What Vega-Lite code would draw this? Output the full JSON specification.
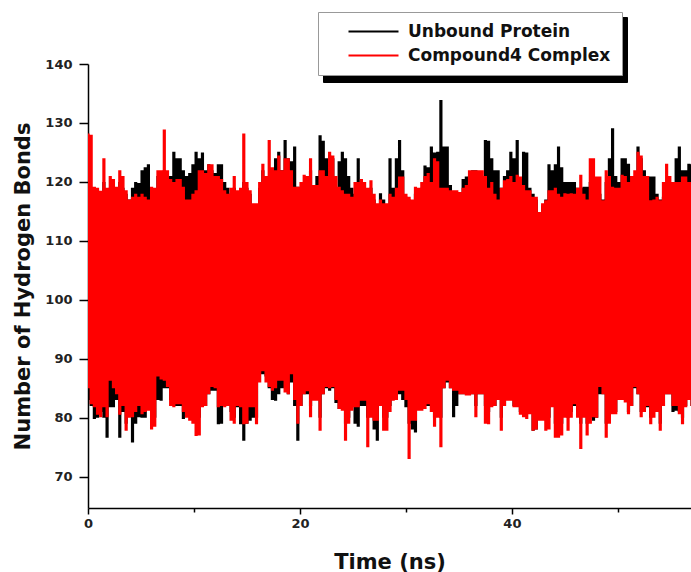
{
  "$schema": "https://vega.github.io/schema/vega-lite/v6.json",
  "width": 603,
  "height": 444,
  "autosize": {"type": "none"},
  "padding": {"left": 88, "top": 64, "right": 0, "bottom": 64},
  "background": "white",
  "config": {"view": {"stroke": null}, "font": "DejaVu Sans"},
  "data": {"values": [
{"t":0,"uh":119,"ul":83,"ch":128.2,"cl":85},
{"t":0.3,"uh":119,"ul":82,"ch":128,"cl":82.3},
{"t":0.6,"uh":119,"ul":79.8,"ch":119.2,"cl":81.8},
{"t":0.9,"uh":118.5,"ul":80,"ch":119,"cl":80.5},
{"t":1.2,"uh":118,"ul":81,"ch":118.5,"cl":80.1},
{"t":1.5,"uh":120,"ul":80,"ch":124,"cl":81.8},
{"t":1.8,"uh":118,"ul":76.6,"ch":119,"cl":80.1},
{"t":2.1,"uh":119,"ul":81.8,"ch":121,"cl":86.3},
{"t":2.4,"uh":119,"ul":81.8,"ch":120.5,"cl":85},
{"t":2.7,"uh":118,"ul":83,"ch":119.2,"cl":84},
{"t":3.0,"uh":120,"ul":76.6,"ch":122,"cl":80.5},
{"t":3.3,"uh":119,"ul":81,"ch":121,"cl":82},
{"t":3.6,"uh":118,"ul":79,"ch":118.6,"cl":77.8},
{"t":3.9,"uh":117,"ul":81,"ch":117,"cl":80},
{"t":4.2,"uh":119,"ul":75.8,"ch":117.5,"cl":80.1},
{"t":4.5,"uh":120,"ul":79,"ch":118,"cl":81},
{"t":4.8,"uh":119.8,"ul":80.1,"ch":117.5,"cl":82},
{"t":5.1,"uh":122,"ul":80,"ch":118,"cl":80.6},
{"t":5.4,"uh":122.5,"ul":80,"ch":117.5,"cl":81},
{"t":5.7,"uh":123,"ul":82,"ch":117,"cl":81.2},
{"t":6.0,"uh":118.6,"ul":81,"ch":119.2,"cl":78},
{"t":6.3,"uh":118,"ul":80,"ch":119,"cl":78.5},
{"t":6.6,"uh":121,"ul":83,"ch":122,"cl":87},
{"t":6.9,"uh":121,"ul":82.9,"ch":122,"cl":86.5},
{"t":7.2,"uh":122,"ul":85,"ch":128.9,"cl":86.3},
{"t":7.5,"uh":121,"ul":85,"ch":122,"cl":85.2},
{"t":7.8,"uh":121,"ul":83,"ch":120.5,"cl":82},
{"t":8.1,"uh":125.1,"ul":82,"ch":120,"cl":81.8},
{"t":8.4,"uh":124,"ul":82,"ch":120.5,"cl":82.3},
{"t":8.7,"uh":124,"ul":82,"ch":120.5,"cl":82.3},
{"t":9.0,"uh":122,"ul":79.8,"ch":119.2,"cl":81},
{"t":9.3,"uh":121,"ul":81,"ch":117,"cl":80},
{"t":9.6,"uh":121.5,"ul":81,"ch":117,"cl":79.5},
{"t":9.9,"uh":123,"ul":80,"ch":118,"cl":79},
{"t":10.2,"uh":125.1,"ul":80,"ch":118.6,"cl":76.9},
{"t":10.5,"uh":124,"ul":80,"ch":122,"cl":77},
{"t":10.8,"uh":125,"ul":82,"ch":122,"cl":81.8},
{"t":11.1,"uh":122,"ul":82,"ch":121.5,"cl":82},
{"t":11.4,"uh":123,"ul":84,"ch":123,"cl":84},
{"t":11.7,"uh":122,"ul":84.6,"ch":123,"cl":85.2},
{"t":12.0,"uh":121.5,"ul":84.6,"ch":121,"cl":85},
{"t":12.3,"uh":123,"ul":78.9,"ch":121,"cl":81.8},
{"t":12.6,"uh":123,"ul":79,"ch":120.5,"cl":82},
{"t":12.9,"uh":120,"ul":82,"ch":118.6,"cl":81.8},
{"t":13.2,"uh":119,"ul":83,"ch":118,"cl":82},
{"t":13.5,"uh":118,"ul":81,"ch":119,"cl":79.5},
{"t":13.8,"uh":119,"ul":80,"ch":121,"cl":79},
{"t":14.1,"uh":118,"ul":81.8,"ch":118.6,"cl":82},
{"t":14.4,"uh":118,"ul":78.9,"ch":119,"cl":81.8},
{"t":14.7,"uh":120,"ul":76.1,"ch":128.2,"cl":78.9},
{"t":15.0,"uh":119,"ul":79,"ch":120,"cl":79},
{"t":15.3,"uh":118,"ul":79.5,"ch":118.6,"cl":81.8},
{"t":15.6,"uh":116,"ul":80,"ch":116.4,"cl":81.8},
{"t":15.9,"uh":116,"ul":80,"ch":116.4,"cl":78.9},
{"t":16.2,"uh":119,"ul":87.4,"ch":120,"cl":86},
{"t":16.5,"uh":122,"ul":87.4,"ch":123.1,"cl":87.9},
{"t":16.8,"uh":120,"ul":87,"ch":121,"cl":86},
{"t":17.1,"uh":121,"ul":85,"ch":127.1,"cl":85.2},
{"t":17.4,"uh":121,"ul":83,"ch":122.5,"cl":84.6},
{"t":17.7,"uh":124,"ul":82.9,"ch":122,"cl":85},
{"t":18.0,"uh":125.1,"ul":84,"ch":124.5,"cl":86.3},
{"t":18.3,"uh":122,"ul":85,"ch":122,"cl":86.3},
{"t":18.6,"uh":127.1,"ul":85,"ch":124,"cl":84.3},
{"t":18.9,"uh":124,"ul":84,"ch":124,"cl":84},
{"t":19.2,"uh":123.5,"ul":86,"ch":122,"cl":87.4},
{"t":19.5,"uh":126,"ul":82,"ch":119.2,"cl":83},
{"t":19.8,"uh":119.2,"ul":76.1,"ch":119.2,"cl":79},
{"t":20.1,"uh":118.6,"ul":82,"ch":120,"cl":82},
{"t":20.4,"uh":120,"ul":84,"ch":121.2,"cl":84},
{"t":20.7,"uh":120,"ul":84,"ch":121,"cl":84.5},
{"t":21.0,"uh":122,"ul":82,"ch":124,"cl":80.1},
{"t":21.3,"uh":119,"ul":83,"ch":119.5,"cl":82.9},
{"t":21.6,"uh":121,"ul":83,"ch":119.5,"cl":82.9},
{"t":21.9,"uh":127.9,"ul":80,"ch":122,"cl":77.8},
{"t":22.2,"uh":127,"ul":84,"ch":122,"cl":84},
{"t":22.5,"uh":124,"ul":85,"ch":121,"cl":85.2},
{"t":22.8,"uh":124.5,"ul":84.6,"ch":125.1,"cl":85},
{"t":23.1,"uh":124,"ul":85,"ch":124.5,"cl":85.2},
{"t":23.4,"uh":118,"ul":82.5,"ch":121,"cl":83},
{"t":23.7,"uh":123.5,"ul":81.5,"ch":119.2,"cl":81.5},
{"t":24.0,"uh":125.1,"ul":82,"ch":118.6,"cl":81.2},
{"t":24.3,"uh":124,"ul":79,"ch":118,"cl":76.1},
{"t":24.6,"uh":121,"ul":80,"ch":118,"cl":79},
{"t":24.9,"uh":119,"ul":82,"ch":117.5,"cl":81.2},
{"t":25.2,"uh":118,"ul":79,"ch":120,"cl":81.8},
{"t":25.5,"uh":124,"ul":78.5,"ch":120,"cl":81.8},
{"t":25.8,"uh":119,"ul":82,"ch":120.5,"cl":82.9},
{"t":26.1,"uh":118.6,"ul":82,"ch":120,"cl":82.9},
{"t":26.4,"uh":118,"ul":80,"ch":119,"cl":75},
{"t":26.7,"uh":119,"ul":82,"ch":120.3,"cl":80},
{"t":27.0,"uh":117,"ul":78,"ch":118,"cl":79.5},
{"t":27.3,"uh":116,"ul":76.1,"ch":116.4,"cl":79.5},
{"t":27.6,"uh":118.1,"ul":82,"ch":117,"cl":82},
{"t":27.9,"uh":117,"ul":80,"ch":116.4,"cl":77.8},
{"t":28.2,"uh":116,"ul":80,"ch":116.4,"cl":77.8},
{"t":28.5,"uh":124,"ul":82,"ch":118,"cl":81},
{"t":28.8,"uh":119,"ul":83,"ch":117.5,"cl":82.9},
{"t":29.1,"uh":124,"ul":83,"ch":119,"cl":83},
{"t":29.4,"uh":127.1,"ul":84,"ch":120.9,"cl":84.6},
{"t":29.7,"uh":122,"ul":83,"ch":120.9,"cl":84.6},
{"t":30.0,"uh":117.5,"ul":81.8,"ch":118,"cl":83},
{"t":30.3,"uh":117,"ul":79,"ch":117.5,"cl":73},
{"t":30.6,"uh":116.5,"ul":78,"ch":117,"cl":79.5},
{"t":30.9,"uh":118,"ul":77.5,"ch":119.2,"cl":79.5},
{"t":31.2,"uh":118.5,"ul":82,"ch":119,"cl":81.2},
{"t":31.5,"uh":119,"ul":82,"ch":120,"cl":81.2},
{"t":31.8,"uh":122.8,"ul":82,"ch":121,"cl":81.5},
{"t":32.1,"uh":122.5,"ul":82,"ch":121.5,"cl":82.3},
{"t":32.4,"uh":126,"ul":82,"ch":120,"cl":81},
{"t":32.7,"uh":125,"ul":80,"ch":124,"cl":78.5},
{"t":33.0,"uh":125.1,"ul":81,"ch":123.5,"cl":80},
{"t":33.3,"uh":133.9,"ul":80,"ch":119,"cl":75},
{"t":33.6,"uh":126,"ul":85,"ch":119,"cl":85},
{"t":33.9,"uh":126,"ul":86,"ch":119,"cl":86.3},
{"t":34.2,"uh":119.5,"ul":85,"ch":118.6,"cl":85},
{"t":34.5,"uh":118,"ul":80.1,"ch":118.6,"cl":84.6},
{"t":34.8,"uh":118,"ul":82,"ch":118.6,"cl":84.6},
{"t":35.1,"uh":117.5,"ul":84,"ch":118.3,"cl":84},
{"t":35.4,"uh":120.5,"ul":84,"ch":119,"cl":84},
{"t":35.7,"uh":120.9,"ul":84,"ch":119.5,"cl":83.8},
{"t":36.0,"uh":121,"ul":84,"ch":122,"cl":83.8},
{"t":36.3,"uh":122,"ul":84,"ch":122,"cl":84},
{"t":36.6,"uh":122,"ul":82,"ch":122,"cl":80.1},
{"t":36.9,"uh":121.5,"ul":84,"ch":122,"cl":84},
{"t":37.2,"uh":121,"ul":84,"ch":122,"cl":84},
{"t":37.5,"uh":127.1,"ul":82,"ch":121,"cl":79},
{"t":37.8,"uh":127,"ul":81,"ch":119,"cl":78.9},
{"t":38.1,"uh":124,"ul":82,"ch":120,"cl":81.8},
{"t":38.4,"uh":122,"ul":82,"ch":118,"cl":82},
{"t":38.7,"uh":122,"ul":83,"ch":117,"cl":83},
{"t":39.0,"uh":119,"ul":80,"ch":119,"cl":77.8},
{"t":39.3,"uh":121,"ul":82,"ch":120.3,"cl":82},
{"t":39.6,"uh":122,"ul":83,"ch":120.5,"cl":82.9},
{"t":39.9,"uh":125.1,"ul":83,"ch":121,"cl":82.9},
{"t":40.2,"uh":124,"ul":82,"ch":120,"cl":81.8},
{"t":40.5,"uh":127.1,"ul":82,"ch":121.2,"cl":81.8},
{"t":40.8,"uh":120.5,"ul":81,"ch":120.9,"cl":80.5},
{"t":41.1,"uh":125.1,"ul":81,"ch":119.5,"cl":80.1},
{"t":41.4,"uh":125,"ul":81,"ch":118.6,"cl":79.8},
{"t":41.7,"uh":119,"ul":81,"ch":118.6,"cl":80.6},
{"t":42.0,"uh":118,"ul":77.8,"ch":117.5,"cl":77.8},
{"t":42.3,"uh":117,"ul":78,"ch":117.5,"cl":78},
{"t":42.6,"uh":114,"ul":80,"ch":114.9,"cl":79.5},
{"t":42.9,"uh":116,"ul":80,"ch":116.4,"cl":79.5},
{"t":43.2,"uh":117,"ul":80,"ch":116.9,"cl":77.8},
{"t":43.5,"uh":123,"ul":80,"ch":118.6,"cl":78},
{"t":43.8,"uh":122,"ul":82,"ch":118.6,"cl":81.8},
{"t":44.1,"uh":123,"ul":79,"ch":119,"cl":76.6},
{"t":44.4,"uh":126,"ul":79,"ch":118,"cl":76.6},
{"t":44.7,"uh":122.5,"ul":79,"ch":117.5,"cl":77},
{"t":45.0,"uh":120,"ul":81,"ch":118.1,"cl":80},
{"t":45.3,"uh":120,"ul":80,"ch":118,"cl":77.8},
{"t":45.6,"uh":120,"ul":81,"ch":118.1,"cl":80},
{"t":45.9,"uh":120,"ul":82,"ch":118,"cl":82.3},
{"t":46.2,"uh":119,"ul":81,"ch":119,"cl":80},
{"t":46.5,"uh":119,"ul":79,"ch":121.2,"cl":74.7},
{"t":46.8,"uh":119.2,"ul":81,"ch":118,"cl":80},
{"t":47.1,"uh":119.2,"ul":79,"ch":117,"cl":77},
{"t":47.4,"uh":120,"ul":80,"ch":124,"cl":79},
{"t":47.7,"uh":120,"ul":79.5,"ch":124,"cl":80.1},
{"t":48.0,"uh":119,"ul":80,"ch":120.9,"cl":80},
{"t":48.3,"uh":118,"ul":84,"ch":120.9,"cl":85.2},
{"t":48.6,"uh":117,"ul":84,"ch":116.9,"cl":84},
{"t":48.9,"uh":120,"ul":79,"ch":122,"cl":76.6},
{"t":49.2,"uh":124,"ul":80,"ch":121,"cl":79},
{"t":49.5,"uh":129.1,"ul":81,"ch":119.2,"cl":80.6},
{"t":49.8,"uh":121,"ul":81,"ch":119,"cl":80.6},
{"t":50.1,"uh":120,"ul":83,"ch":119,"cl":83},
{"t":50.4,"uh":124,"ul":83,"ch":121.2,"cl":83},
{"t":50.7,"uh":124,"ul":83,"ch":121,"cl":82.6},
{"t":51.0,"uh":123.1,"ul":81,"ch":120,"cl":80.6},
{"t":51.3,"uh":121,"ul":82,"ch":121,"cl":82},
{"t":51.6,"uh":121,"ul":85,"ch":122,"cl":85.2},
{"t":51.9,"uh":126,"ul":84,"ch":125.1,"cl":84},
{"t":52.2,"uh":124,"ul":81,"ch":124.5,"cl":80.1},
{"t":52.5,"uh":122,"ul":81,"ch":121,"cl":81},
{"t":52.8,"uh":121,"ul":81.8,"ch":121,"cl":82},
{"t":53.1,"uh":120.9,"ul":80,"ch":116.9,"cl":78.9},
{"t":53.4,"uh":120.9,"ul":81,"ch":117,"cl":80},
{"t":53.7,"uh":118,"ul":81,"ch":117.5,"cl":81},
{"t":54.0,"uh":117,"ul":79,"ch":116.9,"cl":77.8},
{"t":54.3,"uh":117.5,"ul":82,"ch":120,"cl":82},
{"t":54.6,"uh":119,"ul":84,"ch":123.1,"cl":84},
{"t":54.9,"uh":119,"ul":84,"ch":121,"cl":84},
{"t":55.2,"uh":119,"ul":81,"ch":120,"cl":82},
{"t":55.5,"uh":124,"ul":81.2,"ch":120,"cl":82},
{"t":55.8,"uh":126,"ul":81,"ch":120,"cl":80.6},
{"t":56.1,"uh":122,"ul":80,"ch":120.9,"cl":78.9},
{"t":56.4,"uh":122,"ul":82,"ch":120.9,"cl":81.8},
{"t":56.7,"uh":123.1,"ul":83,"ch":120,"cl":83},
{"t":57.0,"uh":123,"ul":82,"ch":120,"cl":82}
  ]},
  "encoding": {
    "x": {
      "field": "t", "type": "quantitative",
      "scale": {"domain": [0, 56.9], "nice": false, "zero": false},
      "axis": {
        "title": "Time (ns)",
        "values": [0, 10, 20, 30, 40, 50],
        "labelExpr": "datum.value % 20 === 0 ? datum.label : ''",
        "grid": false,
        "domainColor": "#000", "domainWidth": 1.5,
        "tickColor": "#000", "tickWidth": 1.5,
        "tickSize": {"condition": {"test": "datum.value % 20 === 0", "value": 6}, "value": 4},
        "labelFont": "DejaVu Sans", "labelFontWeight": "bold", "labelFontSize": 13, "labelColor": "#222",
        "labelPadding": 3, "labelFlush": false,
        "titleFont": "DejaVu Sans", "titleFontWeight": "bold", "titleFontSize": 21, "titleColor": "#111",
        "titlePadding": 21
      }
    }
  },
  "layer": [
    {
      "mark": {"type": "area", "interpolate": "step", "clip": true},
      "encoding": {
        "y": {
          "field": "uh", "type": "quantitative",
          "scale": {"domain": [64.7, 140], "nice": false, "zero": false},
          "axis": {
            "title": "Number of Hydrogen Bonds",
            "values": [70, 75, 80, 85, 90, 95, 100, 105, 110, 115, 120, 125, 130, 135, 140],
            "labelExpr": "datum.value % 10 === 0 ? datum.label : ''",
            "grid": false,
            "domainColor": "#000", "domainWidth": 1.5,
            "tickColor": "#000", "tickWidth": 1.5,
            "tickSize": {"condition": {"test": "datum.value % 10 === 0", "value": 9}, "value": 5},
            "labelFont": "DejaVu Sans", "labelFontWeight": "bold", "labelFontSize": 13, "labelColor": "#222",
            "labelPadding": 7,
            "titleFont": "DejaVu Sans", "titleFontWeight": "bold", "titleFontSize": 21, "titleColor": "#111",
            "titlePadding": 11
          }
        },
        "y2": {"field": "ul"},
        "color": {
          "datum": "Unbound Protein",
          "scale": {"domain": ["Unbound Protein", "Compound4 Complex"], "range": ["#000000", "#ff0000"]},
          "legend": {
            "orient": "none", "legendX": 230, "legendY": -52,
            "zindex": 2,
            "title": null,
            "symbolType": "M-5,0H5",
            "symbolSize": 100,
            "symbolStrokeWidth": 2,
            "symbolOffset": 36,
            "labelOffset": 26,
            "labelLimit": 400,
            "labelFont": "DejaVu Sans", "labelFontWeight": "bold", "labelFontSize": 17, "labelColor": "#111",
            "padding": 11, "rowPadding": 6,
            "strokeColor": "#999", "fillColor": "white",
            "encode": {"symbols": {"update": {"stroke": {"scale": "color", "field": "value"}, "strokeWidth": {"value": 2}}}}
          }
        },
        "opacity": {
          "datum": "Unbound Protein",
          "scale": {"domain": ["Compound4 Complex", "Unbound Protein"], "range": [1, 1]},
          "legend": {
            "orient": "none", "legendX": 235, "legendY": -47,
            "zindex": 1,
            "title": null,
            "symbolType": "circle",
            "symbolSize": 150,
            "symbolOpacity": 0,
            "symbolOffset": 265,
            "labelOffset": 0,
            "labelExpr": "''",
            "labelFontSize": 10,
            "padding": 11, "rowPadding": 6,
            "strokeColor": "#000", "fillColor": "#000"
          }
        }
      }
    },
    {
      "mark": {"type": "area", "interpolate": "step", "clip": true},
      "encoding": {
        "y": {"field": "ch", "type": "quantitative", "title": "Number of Hydrogen Bonds"},
        "y2": {"field": "cl"},
        "color": {"datum": "Compound4 Complex"},
        "opacity": {"datum": "Compound4 Complex"}
      }
    }
  ]
}
